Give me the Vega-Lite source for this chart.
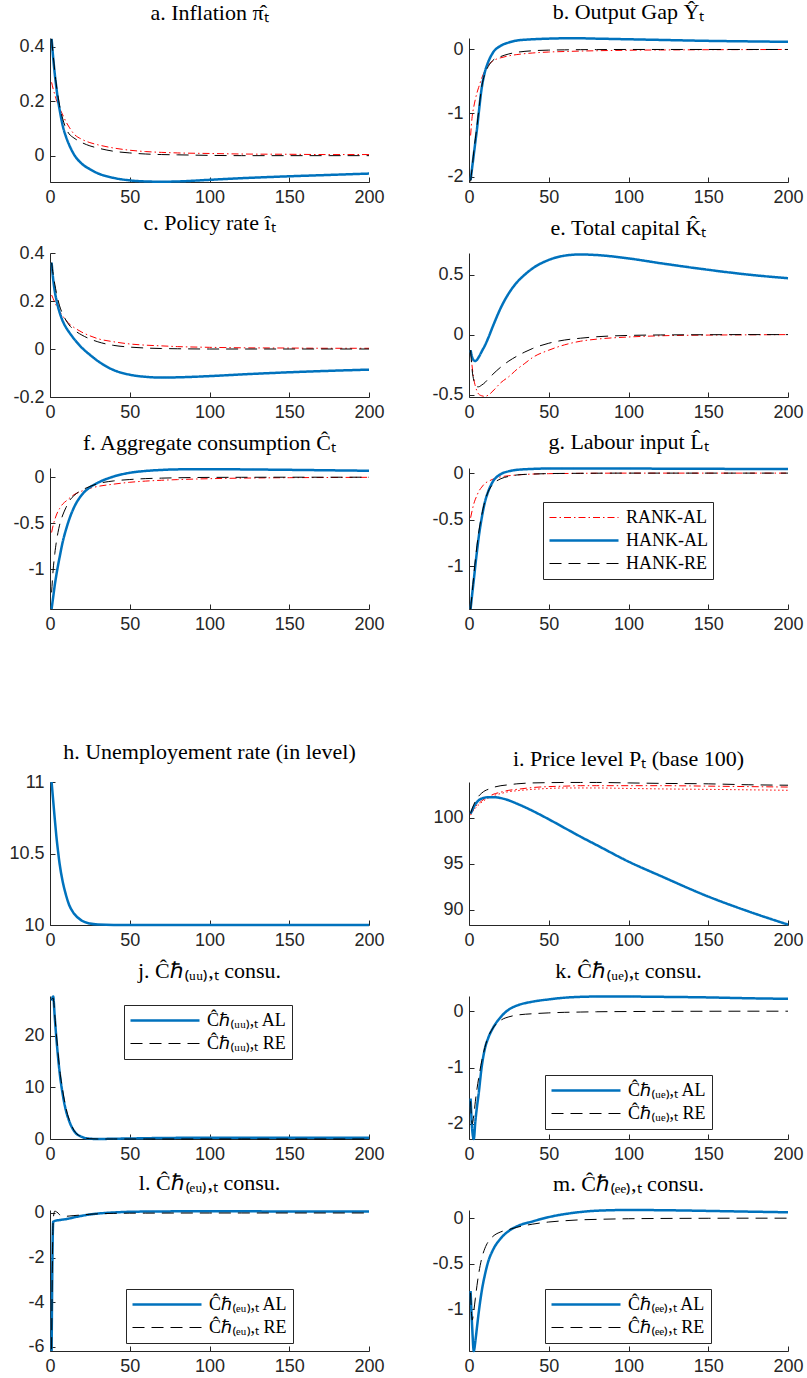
{
"$schema":"https://vega.github.io/schema/vega-lite/v6.json",
"background":"white",
"padding":{"left":8,"top":1,"right":5,"bottom":3},
"config":{
 "view":{"stroke":null},
 "axis":{"grid":false,"title":null,"domainColor":"#262626","tickColor":"#262626","labelColor":"#262626","labelFont":"Liberation Sans","labelFontSize":18,"tickSize":-5,"labelPadding":11,"labelFlush":false,"labelOverlap":false,"domainWidth":1},
 "title":{"font":"Liberation Serif","fontSize":22,"fontWeight":"normal","color":"#000000","baseline":"alphabetic","offset":9,"frame":"group","anchor":"middle"},
 "legend":{"orient":"none","symbolType":"stroke","symbolSize":4761,"clipHeight":21,"rowPadding":2,"padding":5,"labelFont":"Liberation Serif","labelFontSize":18,"labelColor":"#000000","strokeColor":"#262626","fillColor":"white","labelOffset":6}
},
"datasets":{
"a":[
{"t":1,"RANK-AL":0.27,"HANK-AL":0.43,"HANK-RE":0.43},
{"t":2,"RANK-AL":0.245,"HANK-AL":0.36,"HANK-RE":0.37},
{"t":3,"RANK-AL":0.225,"HANK-AL":0.30,"HANK-RE":0.31},
{"t":4,"RANK-AL":0.205,"HANK-AL":0.25,"HANK-RE":0.26},
{"t":5,"RANK-AL":0.19,"HANK-AL":0.205,"HANK-RE":0.22},
{"t":6,"RANK-AL":0.175,"HANK-AL":0.17,"HANK-RE":0.185},
{"t":8,"RANK-AL":0.15,"HANK-AL":0.11,"HANK-RE":0.135},
{"t":10,"RANK-AL":0.125,"HANK-AL":0.07,"HANK-RE":0.10},
{"t":12,"RANK-AL":0.105,"HANK-AL":0.04,"HANK-RE":0.08},
{"t":15,"RANK-AL":0.08,"HANK-AL":0.005,"HANK-RE":0.065},
{"t":20,"RANK-AL":0.06,"HANK-AL":-0.03,"HANK-RE":0.048},
{"t":25,"RANK-AL":0.048,"HANK-AL":-0.05,"HANK-RE":0.036},
{"t":30,"RANK-AL":0.04,"HANK-AL":-0.065,"HANK-RE":0.028},
{"t":40,"RANK-AL":0.028,"HANK-AL":-0.082,"HANK-RE":0.016},
{"t":50,"RANK-AL":0.02,"HANK-AL":-0.091,"HANK-RE":0.01},
{"t":60,"RANK-AL":0.015,"HANK-AL":-0.095,"HANK-RE":0.006},
{"t":70,"RANK-AL":0.012,"HANK-AL":-0.096,"HANK-RE":0.004},
{"t":80,"RANK-AL":0.01,"HANK-AL":-0.095,"HANK-RE":0.003},
{"t":100,"RANK-AL":0.008,"HANK-AL":-0.089,"HANK-RE":0.001},
{"t":120,"RANK-AL":0.006,"HANK-AL":-0.083,"HANK-RE":0.0},
{"t":150,"RANK-AL":0.005,"HANK-AL":-0.076,"HANK-RE":0.0},
{"t":175,"RANK-AL":0.004,"HANK-AL":-0.071,"HANK-RE":0.0},
{"t":200,"RANK-AL":0.004,"HANK-AL":-0.066,"HANK-RE":0.0}
],
"b":[
{"t":1,"RANK-AL":-1.35,"HANK-AL":-2.05,"HANK-RE":-2.07},
{"t":2,"RANK-AL":-1.05,"HANK-AL":-1.85,"HANK-RE":-1.85},
{"t":3,"RANK-AL":-0.9,"HANK-AL":-1.65,"HANK-RE":-1.6},
{"t":4,"RANK-AL":-0.78,"HANK-AL":-1.45,"HANK-RE":-1.4},
{"t":5,"RANK-AL":-0.68,"HANK-AL":-1.25,"HANK-RE":-1.2},
{"t":6,"RANK-AL":-0.6,"HANK-AL":-1.02,"HANK-RE":-0.98},
{"t":8,"RANK-AL":-0.45,"HANK-AL":-0.6,"HANK-RE":-0.58},
{"t":10,"RANK-AL":-0.33,"HANK-AL":-0.35,"HANK-RE":-0.38},
{"t":12,"RANK-AL":-0.25,"HANK-AL":-0.2,"HANK-RE":-0.27},
{"t":15,"RANK-AL":-0.18,"HANK-AL":-0.05,"HANK-RE":-0.17},
{"t":20,"RANK-AL":-0.13,"HANK-AL":0.06,"HANK-RE":-0.11},
{"t":25,"RANK-AL":-0.1,"HANK-AL":0.11,"HANK-RE":-0.07},
{"t":30,"RANK-AL":-0.08,"HANK-AL":0.14,"HANK-RE":-0.045},
{"t":40,"RANK-AL":-0.055,"HANK-AL":0.16,"HANK-RE":-0.02},
{"t":50,"RANK-AL":-0.04,"HANK-AL":0.17,"HANK-RE":-0.01},
{"t":60,"RANK-AL":-0.032,"HANK-AL":0.175,"HANK-RE":-0.006},
{"t":70,"RANK-AL":-0.025,"HANK-AL":0.175,"HANK-RE":-0.003},
{"t":80,"RANK-AL":-0.02,"HANK-AL":0.17,"HANK-RE":-0.002},
{"t":100,"RANK-AL":-0.012,"HANK-AL":0.16,"HANK-RE":0},
{"t":120,"RANK-AL":-0.008,"HANK-AL":0.15,"HANK-RE":0},
{"t":150,"RANK-AL":-0.004,"HANK-AL":0.135,"HANK-RE":0},
{"t":175,"RANK-AL":-0.002,"HANK-AL":0.127,"HANK-RE":0},
{"t":200,"RANK-AL":0,"HANK-AL":0.12,"HANK-RE":0}
],
"c":[
{"t":1,"RANK-AL":0.225,"HANK-AL":0.36,"HANK-RE":0.36},
{"t":2,"RANK-AL":0.21,"HANK-AL":0.29,"HANK-RE":0.31},
{"t":3,"RANK-AL":0.195,"HANK-AL":0.24,"HANK-RE":0.27},
{"t":4,"RANK-AL":0.18,"HANK-AL":0.205,"HANK-RE":0.235},
{"t":5,"RANK-AL":0.168,"HANK-AL":0.177,"HANK-RE":0.205},
{"t":6,"RANK-AL":0.156,"HANK-AL":0.153,"HANK-RE":0.18},
{"t":8,"RANK-AL":0.137,"HANK-AL":0.116,"HANK-RE":0.145},
{"t":10,"RANK-AL":0.12,"HANK-AL":0.09,"HANK-RE":0.12},
{"t":12,"RANK-AL":0.105,"HANK-AL":0.07,"HANK-RE":0.1},
{"t":15,"RANK-AL":0.09,"HANK-AL":0.043,"HANK-RE":0.08},
{"t":20,"RANK-AL":0.07,"HANK-AL":0.005,"HANK-RE":0.058},
{"t":25,"RANK-AL":0.055,"HANK-AL":-0.024,"HANK-RE":0.042},
{"t":30,"RANK-AL":0.043,"HANK-AL":-0.05,"HANK-RE":0.03},
{"t":40,"RANK-AL":0.03,"HANK-AL":-0.088,"HANK-RE":0.015},
{"t":50,"RANK-AL":0.021,"HANK-AL":-0.107,"HANK-RE":0.008},
{"t":60,"RANK-AL":0.016,"HANK-AL":-0.116,"HANK-RE":0.004},
{"t":70,"RANK-AL":0.013,"HANK-AL":-0.119,"HANK-RE":0.002},
{"t":80,"RANK-AL":0.01,"HANK-AL":-0.118,"HANK-RE":0.001},
{"t":100,"RANK-AL":0.007,"HANK-AL":-0.113,"HANK-RE":0},
{"t":120,"RANK-AL":0.005,"HANK-AL":-0.106,"HANK-RE":0},
{"t":150,"RANK-AL":0.004,"HANK-AL":-0.097,"HANK-RE":0},
{"t":175,"RANK-AL":0.003,"HANK-AL":-0.091,"HANK-RE":0},
{"t":200,"RANK-AL":0.003,"HANK-AL":-0.086,"HANK-RE":0}
],
"e":[
{"t":1,"RANK-AL":-0.13,"HANK-AL":-0.13,"HANK-RE":-0.13},
{"t":2,"RANK-AL":-0.27,"HANK-AL":-0.19,"HANK-RE":-0.3},
{"t":3,"RANK-AL":-0.37,"HANK-AL":-0.215,"HANK-RE":-0.38},
{"t":4,"RANK-AL":-0.43,"HANK-AL":-0.22,"HANK-RE":-0.42},
{"t":5,"RANK-AL":-0.47,"HANK-AL":-0.21,"HANK-RE":-0.435},
{"t":6,"RANK-AL":-0.495,"HANK-AL":-0.19,"HANK-RE":-0.435},
{"t":8,"RANK-AL":-0.51,"HANK-AL":-0.14,"HANK-RE":-0.42},
{"t":10,"RANK-AL":-0.515,"HANK-AL":-0.09,"HANK-RE":-0.4},
{"t":12,"RANK-AL":-0.505,"HANK-AL":-0.03,"HANK-RE":-0.37},
{"t":15,"RANK-AL":-0.47,"HANK-AL":0.07,"HANK-RE":-0.33},
{"t":20,"RANK-AL":-0.4,"HANK-AL":0.225,"HANK-RE":-0.27},
{"t":25,"RANK-AL":-0.35,"HANK-AL":0.345,"HANK-RE":-0.22},
{"t":30,"RANK-AL":-0.29,"HANK-AL":0.435,"HANK-RE":-0.18},
{"t":35,"RANK-AL":-0.24,"HANK-AL":0.5,"HANK-RE":-0.145},
{"t":40,"RANK-AL":-0.19,"HANK-AL":0.553,"HANK-RE":-0.115},
{"t":50,"RANK-AL":-0.13,"HANK-AL":0.622,"HANK-RE":-0.072},
{"t":60,"RANK-AL":-0.085,"HANK-AL":0.658,"HANK-RE":-0.045},
{"t":70,"RANK-AL":-0.055,"HANK-AL":0.668,"HANK-RE":-0.03},
{"t":80,"RANK-AL":-0.038,"HANK-AL":0.663,"HANK-RE":-0.018},
{"t":100,"RANK-AL":-0.02,"HANK-AL":0.635,"HANK-RE":-0.007},
{"t":120,"RANK-AL":-0.01,"HANK-AL":0.595,"HANK-RE":-0.003},
{"t":150,"RANK-AL":-0.004,"HANK-AL":0.54,"HANK-RE":-0.001},
{"t":175,"RANK-AL":-0.002,"HANK-AL":0.5,"HANK-RE":0},
{"t":200,"RANK-AL":0,"HANK-AL":0.47,"HANK-RE":0}
],
"f":[
{"t":1,"RANK-AL":-0.6,"HANK-AL":-1.43,"HANK-RE":-1.25},
{"t":2,"RANK-AL":-0.52,"HANK-AL":-1.3,"HANK-RE":-1.0},
{"t":3,"RANK-AL":-0.46,"HANK-AL":-1.17,"HANK-RE":-0.83},
{"t":4,"RANK-AL":-0.41,"HANK-AL":-1.06,"HANK-RE":-0.7},
{"t":5,"RANK-AL":-0.37,"HANK-AL":-0.96,"HANK-RE":-0.6},
{"t":6,"RANK-AL":-0.34,"HANK-AL":-0.87,"HANK-RE":-0.52},
{"t":8,"RANK-AL":-0.29,"HANK-AL":-0.7,"HANK-RE":-0.41},
{"t":10,"RANK-AL":-0.26,"HANK-AL":-0.57,"HANK-RE":-0.33},
{"t":12,"RANK-AL":-0.23,"HANK-AL":-0.46,"HANK-RE":-0.26},
{"t":15,"RANK-AL":-0.19,"HANK-AL":-0.33,"HANK-RE":-0.2},
{"t":20,"RANK-AL":-0.15,"HANK-AL":-0.19,"HANK-RE":-0.14},
{"t":25,"RANK-AL":-0.12,"HANK-AL":-0.11,"HANK-RE":-0.1},
{"t":30,"RANK-AL":-0.1,"HANK-AL":-0.06,"HANK-RE":-0.07},
{"t":40,"RANK-AL":-0.075,"HANK-AL":0.008,"HANK-RE":-0.04},
{"t":50,"RANK-AL":-0.055,"HANK-AL":0.048,"HANK-RE":-0.025},
{"t":60,"RANK-AL":-0.042,"HANK-AL":0.068,"HANK-RE":-0.015},
{"t":70,"RANK-AL":-0.033,"HANK-AL":0.079,"HANK-RE":-0.01},
{"t":80,"RANK-AL":-0.026,"HANK-AL":0.085,"HANK-RE":-0.006},
{"t":100,"RANK-AL":-0.016,"HANK-AL":0.087,"HANK-RE":-0.002},
{"t":120,"RANK-AL":-0.01,"HANK-AL":0.085,"HANK-RE":-0.001},
{"t":150,"RANK-AL":-0.005,"HANK-AL":0.08,"HANK-RE":0},
{"t":175,"RANK-AL":-0.003,"HANK-AL":0.075,"HANK-RE":0},
{"t":200,"RANK-AL":-0.001,"HANK-AL":0.07,"HANK-RE":0}
],
"g":[
{"t":1,"RANK-AL":-0.48,"HANK-AL":-1.46,"HANK-RE":-1.46},
{"t":2,"RANK-AL":-0.4,"HANK-AL":-1.3,"HANK-RE":-1.28},
{"t":3,"RANK-AL":-0.33,"HANK-AL":-1.15,"HANK-RE":-1.1},
{"t":4,"RANK-AL":-0.28,"HANK-AL":-0.99,"HANK-RE":-0.93},
{"t":5,"RANK-AL":-0.24,"HANK-AL":-0.84,"HANK-RE":-0.78},
{"t":6,"RANK-AL":-0.2,"HANK-AL":-0.7,"HANK-RE":-0.65},
{"t":8,"RANK-AL":-0.15,"HANK-AL":-0.48,"HANK-RE":-0.45},
{"t":10,"RANK-AL":-0.11,"HANK-AL":-0.31,"HANK-RE":-0.3},
{"t":12,"RANK-AL":-0.09,"HANK-AL":-0.2,"HANK-RE":-0.2},
{"t":15,"RANK-AL":-0.065,"HANK-AL":-0.09,"HANK-RE":-0.12},
{"t":20,"RANK-AL":-0.04,"HANK-AL":-0.01,"HANK-RE":-0.06},
{"t":25,"RANK-AL":-0.028,"HANK-AL":0.02,"HANK-RE":-0.035},
{"t":30,"RANK-AL":-0.02,"HANK-AL":0.035,"HANK-RE":-0.02},
{"t":40,"RANK-AL":-0.01,"HANK-AL":0.045,"HANK-RE":-0.01},
{"t":50,"RANK-AL":-0.006,"HANK-AL":0.05,"HANK-RE":-0.005},
{"t":60,"RANK-AL":-0.004,"HANK-AL":0.05,"HANK-RE":-0.003},
{"t":70,"RANK-AL":-0.002,"HANK-AL":0.05,"HANK-RE":-0.002},
{"t":80,"RANK-AL":-0.001,"HANK-AL":0.05,"HANK-RE":-0.001},
{"t":100,"RANK-AL":0,"HANK-AL":0.049,"HANK-RE":0},
{"t":120,"RANK-AL":0,"HANK-AL":0.048,"HANK-RE":0},
{"t":150,"RANK-AL":0,"HANK-AL":0.046,"HANK-RE":0},
{"t":175,"RANK-AL":0,"HANK-AL":0.045,"HANK-RE":0},
{"t":200,"RANK-AL":0,"HANK-AL":0.043,"HANK-RE":0}
],
"h":[
{"t":1,"HANK-AL":11.0},{"t":2,"HANK-AL":10.87},{"t":3,"HANK-AL":10.74},{"t":4,"HANK-AL":10.62},{"t":5,"HANK-AL":10.52},{"t":6,"HANK-AL":10.43},{"t":8,"HANK-AL":10.3},{"t":10,"HANK-AL":10.21},{"t":12,"HANK-AL":10.14},{"t":15,"HANK-AL":10.08},{"t":20,"HANK-AL":10.03},{"t":25,"HANK-AL":10.01},{"t":30,"HANK-AL":10.003},{"t":40,"HANK-AL":10.0},{"t":50,"HANK-AL":10.0},{"t":60,"HANK-AL":10.0},{"t":70,"HANK-AL":10.0},{"t":80,"HANK-AL":10.0},{"t":100,"HANK-AL":10.0},{"t":120,"HANK-AL":10.0},{"t":150,"HANK-AL":10.0},{"t":175,"HANK-AL":10.0},{"t":200,"HANK-AL":10.0}
],
"i":[
{"t":1,"RANK-AL":100.4,"RANK-AL2":100.3,"HANK-AL":100.44,"HANK-RE":100.5},
{"t":2,"RANK-AL":100.7,"RANK-AL2":100.6,"HANK-AL":100.85,"HANK-RE":101.0},
{"t":3,"RANK-AL":100.95,"RANK-AL2":100.85,"HANK-AL":101.2,"HANK-RE":101.45},
{"t":4,"RANK-AL":101.2,"RANK-AL2":101.05,"HANK-AL":101.5,"HANK-RE":101.8},
{"t":5,"RANK-AL":101.4,"RANK-AL2":101.25,"HANK-AL":101.72,"HANK-RE":102.1},
{"t":6,"RANK-AL":101.55,"RANK-AL2":101.4,"HANK-AL":101.9,"HANK-RE":102.35},
{"t":8,"RANK-AL":101.85,"RANK-AL2":101.7,"HANK-AL":102.1,"HANK-RE":102.7},
{"t":10,"RANK-AL":102.1,"RANK-AL2":101.95,"HANK-AL":102.2,"HANK-RE":102.95},
{"t":12,"RANK-AL":102.3,"RANK-AL2":102.15,"HANK-AL":102.25,"HANK-RE":103.1},
{"t":15,"RANK-AL":102.55,"RANK-AL2":102.4,"HANK-AL":102.25,"HANK-RE":103.3},
{"t":20,"RANK-AL":102.8,"RANK-AL2":102.65,"HANK-AL":102.15,"HANK-RE":103.5},
{"t":25,"RANK-AL":103.0,"RANK-AL2":102.85,"HANK-AL":101.9,"HANK-RE":103.6},
{"t":30,"RANK-AL":103.1,"RANK-AL2":102.95,"HANK-AL":101.55,"HANK-RE":103.7},
{"t":40,"RANK-AL":103.3,"RANK-AL2":103.1,"HANK-AL":100.75,"HANK-RE":103.8},
{"t":50,"RANK-AL":103.4,"RANK-AL2":103.2,"HANK-AL":99.85,"HANK-RE":103.83},
{"t":60,"RANK-AL":103.45,"RANK-AL2":103.25,"HANK-AL":98.9,"HANK-RE":103.85},
{"t":70,"RANK-AL":103.5,"RANK-AL2":103.25,"HANK-AL":97.95,"HANK-RE":103.85},
{"t":80,"RANK-AL":103.5,"RANK-AL2":103.25,"HANK-AL":97.05,"HANK-RE":103.85},
{"t":100,"RANK-AL":103.5,"RANK-AL2":103.2,"HANK-AL":95.25,"HANK-RE":103.8},
{"t":120,"RANK-AL":103.5,"RANK-AL2":103.15,"HANK-AL":93.7,"HANK-RE":103.75},
{"t":150,"RANK-AL":103.45,"RANK-AL2":103.1,"HANK-AL":91.45,"HANK-RE":103.7},
{"t":175,"RANK-AL":103.4,"RANK-AL2":103.05,"HANK-AL":89.85,"HANK-RE":103.6},
{"t":200,"RANK-AL":103.35,"RANK-AL2":103.0,"HANK-AL":88.4,"HANK-RE":103.55}
],
"j":[
{"t":1,"AL":26.8,"RE":27.0},{"t":2,"AL":27.6,"RE":27.3},{"t":3,"AL":23.5,"RE":24.0},{"t":4,"AL":19.5,"RE":20.3},{"t":5,"AL":16.0,"RE":16.8},{"t":6,"AL":13.0,"RE":13.7},{"t":8,"AL":8.6,"RE":9.3},{"t":10,"AL":5.5,"RE":6.0},{"t":12,"AL":3.5,"RE":3.8},{"t":15,"AL":1.6,"RE":1.7},{"t":20,"AL":0.4,"RE":0.4},{"t":25,"AL":0.05,"RE":0.05},{"t":30,"AL":0.0,"RE":0.0},{"t":40,"AL":0.05,"RE":0},{"t":50,"AL":0.1,"RE":0},{"t":60,"AL":0.15,"RE":0},{"t":70,"AL":0.2,"RE":0},{"t":80,"AL":0.22,"RE":0},{"t":100,"AL":0.25,"RE":0},{"t":120,"AL":0.25,"RE":0},{"t":150,"AL":0.25,"RE":0},{"t":175,"AL":0.23,"RE":0},{"t":200,"AL":0.22,"RE":0}
],
"k":[
{"t":1,"AL":-1.55,"RE":-1.6},{"t":2,"AL":-2.1,"RE":-2.0},{"t":3,"AL":-2.27,"RE":-1.85},{"t":4,"AL":-1.95,"RE":-1.6},{"t":5,"AL":-1.7,"RE":-1.38},{"t":6,"AL":-1.48,"RE":-1.2},{"t":8,"AL":-0.98,"RE":-0.88},{"t":10,"AL":-0.66,"RE":-0.64},{"t":12,"AL":-0.48,"RE":-0.46},{"t":15,"AL":-0.3,"RE":-0.3},{"t":20,"AL":-0.1,"RE":-0.16},{"t":25,"AL":0.03,"RE":-0.1},{"t":30,"AL":0.1,"RE":-0.07},{"t":40,"AL":0.17,"RE":-0.045},{"t":50,"AL":0.21,"RE":-0.03},{"t":60,"AL":0.24,"RE":-0.02},{"t":70,"AL":0.255,"RE":-0.015},{"t":80,"AL":0.26,"RE":-0.01},{"t":100,"AL":0.26,"RE":-0.006},{"t":120,"AL":0.255,"RE":-0.003},{"t":150,"AL":0.245,"RE":-0.001},{"t":175,"AL":0.23,"RE":0},{"t":200,"AL":0.22,"RE":0}
],
"l":[
{"t":1,"AL":-6.18,"RE":-6.1},{"t":2,"AL":-0.4,"RE":-0.3},{"t":3,"AL":-0.36,"RE":0.08},{"t":4,"AL":-0.34,"RE":0.05},{"t":5,"AL":-0.33,"RE":0.0},{"t":6,"AL":-0.32,"RE":-0.08},{"t":8,"AL":-0.3,"RE":-0.13},{"t":10,"AL":-0.28,"RE":-0.15},{"t":12,"AL":-0.25,"RE":-0.14},{"t":15,"AL":-0.2,"RE":-0.12},{"t":20,"AL":-0.13,"RE":-0.09},{"t":25,"AL":-0.07,"RE":-0.06},{"t":30,"AL":-0.03,"RE":-0.04},{"t":40,"AL":0.02,"RE":-0.02},{"t":50,"AL":0.05,"RE":-0.012},{"t":60,"AL":0.06,"RE":-0.01},{"t":70,"AL":0.065,"RE":-0.008},{"t":80,"AL":0.07,"RE":-0.006},{"t":100,"AL":0.07,"RE":-0.005},{"t":120,"AL":0.07,"RE":-0.004},{"t":150,"AL":0.065,"RE":-0.003},{"t":175,"AL":0.062,"RE":-0.003},{"t":200,"AL":0.06,"RE":-0.003}
],
"m":[
{"t":1,"AL":-0.8,"RE":-0.82},{"t":2,"AL":-1.2,"RE":-1.12},{"t":3,"AL":-1.46,"RE":-1.02},{"t":4,"AL":-1.35,"RE":-0.88},{"t":5,"AL":-1.2,"RE":-0.74},{"t":6,"AL":-1.05,"RE":-0.62},{"t":8,"AL":-0.8,"RE":-0.44},{"t":10,"AL":-0.62,"RE":-0.33},{"t":12,"AL":-0.48,"RE":-0.26},{"t":15,"AL":-0.35,"RE":-0.2},{"t":20,"AL":-0.22,"RE":-0.15},{"t":25,"AL":-0.14,"RE":-0.125},{"t":30,"AL":-0.09,"RE":-0.1},{"t":40,"AL":-0.035,"RE":-0.065},{"t":50,"AL":0.012,"RE":-0.042},{"t":60,"AL":0.045,"RE":-0.028},{"t":70,"AL":0.068,"RE":-0.018},{"t":80,"AL":0.082,"RE":-0.013},{"t":100,"AL":0.09,"RE":-0.006},{"t":120,"AL":0.088,"RE":-0.003},{"t":150,"AL":0.08,"RE":-0.001},{"t":175,"AL":0.072,"RE":0},{"t":200,"AL":0.065,"RE":0}
]
},
"columns":2,
"spacing":{"row":71,"column":100},
"bounds":"flush",
"align":"each",
"resolve":{"scale":{"color":"independent","strokeDash":"independent","strokeWidth":"independent"},"legend":{"color":"independent","strokeDash":"independent","strokeWidth":"independent"}},
"concat":[
  {"width":319,"height":144,"title":"a. Inflation π̂ₜ","data":{"name":"a"},
   "transform":[{"fold":["RANK-AL","HANK-AL","HANK-RE"],"as":["series","value"]}],
   "mark":{"type":"line","interpolate":"monotone"},
   "encoding":{
    "x":{"field":"t","type":"quantitative","scale":{"domain":[0,200],"nice":false},"axis":{"values":[0,50,100,150,200]}},
    "y":{"field":"value","type":"quantitative","scale":{"domain":[-0.097,0.433],"nice":false,"zero":false},"axis":{"values":[0,0.2,0.4],"labelExpr":"''+datum.value"}},
    "color":{"field":"series","type":"nominal","scale":{"domain":["RANK-AL","HANK-AL","HANK-RE"],"range":["#ff0000","#0072bd","#000000"]},"legend":null},
    "strokeDash":{"field":"series","type":"nominal","scale":{"domain":["RANK-AL","HANK-AL","HANK-RE"],"range":[[7,3,1.5,3],[1,0],[12,7]]},"legend":null},
    "strokeWidth":{"field":"series","type":"nominal","scale":{"type":"ordinal","domain":["RANK-AL","HANK-AL","HANK-RE"],"range":[1,2.5,1]},"legend":null}}},
  {"width":319,"height":144,"title":"b. Output Gap Ŷₜ","data":{"name":"b"},
   "transform":[{"fold":["RANK-AL","HANK-AL","HANK-RE"],"as":["series","value"]}],
   "mark":{"type":"line","interpolate":"monotone"},
   "encoding":{
    "x":{"field":"t","type":"quantitative","scale":{"domain":[0,200],"nice":false},"axis":{"values":[0,50,100,150,200]}},
    "y":{"field":"value","type":"quantitative","scale":{"domain":[-2.08,0.18],"nice":false,"zero":false},"axis":{"values":[-2,-1,0],"labelExpr":"''+datum.value"}},
    "color":{"field":"series","type":"nominal","scale":{"domain":["RANK-AL","HANK-AL","HANK-RE"],"range":["#ff0000","#0072bd","#000000"]},"legend":null},
    "strokeDash":{"field":"series","type":"nominal","scale":{"domain":["RANK-AL","HANK-AL","HANK-RE"],"range":[[7,3,1.5,3],[1,0],[12,7]]},"legend":null},
    "strokeWidth":{"field":"series","type":"nominal","scale":{"type":"ordinal","domain":["RANK-AL","HANK-AL","HANK-RE"],"range":[1,2.5,1]},"legend":null}}},
  {"width":319,"height":144,"title":"c. Policy rate îₜ","data":{"name":"c"},
   "transform":[{"fold":["RANK-AL","HANK-AL","HANK-RE"],"as":["series","value"]}],
   "mark":{"type":"line","interpolate":"monotone"},
   "encoding":{
    "x":{"field":"t","type":"quantitative","scale":{"domain":[0,200],"nice":false},"axis":{"values":[0,50,100,150,200]}},
    "y":{"field":"value","type":"quantitative","scale":{"domain":[-0.2,0.4],"nice":false,"zero":false},"axis":{"values":[-0.2,0,0.2,0.4],"labelExpr":"''+datum.value"}},
    "color":{"field":"series","type":"nominal","scale":{"domain":["RANK-AL","HANK-AL","HANK-RE"],"range":["#ff0000","#0072bd","#000000"]},"legend":null},
    "strokeDash":{"field":"series","type":"nominal","scale":{"domain":["RANK-AL","HANK-AL","HANK-RE"],"range":[[7,3,1.5,3],[1,0],[12,7]]},"legend":null},
    "strokeWidth":{"field":"series","type":"nominal","scale":{"type":"ordinal","domain":["RANK-AL","HANK-AL","HANK-RE"],"range":[1,2.5,1]},"legend":null}}},
  {"width":319,"height":144,"title":"e. Total capital K̂ₜ","data":{"name":"e"},
   "transform":[{"fold":["RANK-AL","HANK-AL","HANK-RE"],"as":["series","value"]}],
   "mark":{"type":"line","interpolate":"monotone"},
   "encoding":{
    "x":{"field":"t","type":"quantitative","scale":{"domain":[0,200],"nice":false},"axis":{"values":[0,50,100,150,200]}},
    "y":{"field":"value","type":"quantitative","scale":{"domain":[-0.52,0.68],"nice":false,"zero":false},"axis":{"values":[-0.5,0,0.5],"labelExpr":"''+datum.value"}},
    "color":{"field":"series","type":"nominal","scale":{"domain":["RANK-AL","HANK-AL","HANK-RE"],"range":["#ff0000","#0072bd","#000000"]},"legend":null},
    "strokeDash":{"field":"series","type":"nominal","scale":{"domain":["RANK-AL","HANK-AL","HANK-RE"],"range":[[7,3,1.5,3],[1,0],[12,7]]},"legend":null},
    "strokeWidth":{"field":"series","type":"nominal","scale":{"type":"ordinal","domain":["RANK-AL","HANK-AL","HANK-RE"],"range":[1,2.5,1]},"legend":null}}},
  {"width":319,"height":141,"title":"f. Aggregate consumption Ĉₜ","data":{"name":"f"},
   "transform":[{"fold":["RANK-AL","HANK-AL","HANK-RE"],"as":["series","value"]}],
   "mark":{"type":"line","interpolate":"monotone"},
   "encoding":{
    "x":{"field":"t","type":"quantitative","scale":{"domain":[0,200],"nice":false},"axis":{"values":[0,50,100,150,200]}},
    "y":{"field":"value","type":"quantitative","scale":{"domain":[-1.43,0.1],"nice":false,"zero":false},"axis":{"values":[-1,-0.5,0],"labelExpr":"''+datum.value"}},
    "color":{"field":"series","type":"nominal","scale":{"domain":["RANK-AL","HANK-AL","HANK-RE"],"range":["#ff0000","#0072bd","#000000"]},"legend":null},
    "strokeDash":{"field":"series","type":"nominal","scale":{"domain":["RANK-AL","HANK-AL","HANK-RE"],"range":[[7,3,1.5,3],[1,0],[12,7]]},"legend":null},
    "strokeWidth":{"field":"series","type":"nominal","scale":{"type":"ordinal","domain":["RANK-AL","HANK-AL","HANK-RE"],"range":[1,2.5,1]},"legend":null}}},
  {"width":319,"height":141,"title":"g. Labour input L̂ₜ","data":{"name":"g"},
   "transform":[{"fold":["RANK-AL","HANK-AL","HANK-RE"],"as":["series","value"]}],
   "mark":{"type":"line","interpolate":"monotone"},
   "encoding":{
    "x":{"field":"t","type":"quantitative","scale":{"domain":[0,200],"nice":false},"axis":{"values":[0,50,100,150,200]}},
    "y":{"field":"value","type":"quantitative","scale":{"domain":[-1.46,0.055],"nice":false,"zero":false},"axis":{"values":[-1,-0.5,0],"labelExpr":"''+datum.value"}},
    "color":{"field":"series","type":"nominal","scale":{"domain":["RANK-AL","HANK-AL","HANK-RE"],"range":["#ff0000","#0072bd","#000000"]},"legend":{"title":null,"orient":"none","legendX":74,"legendY":34}},
    "strokeDash":{"field":"series","type":"nominal","scale":{"domain":["RANK-AL","HANK-AL","HANK-RE"],"range":[[7,3,1.5,3],[1,0],[12,7]]},"legend":{"title":null,"orient":"none","legendX":74,"legendY":34}},
    "strokeWidth":{"field":"series","type":"nominal","scale":{"type":"ordinal","domain":["RANK-AL","HANK-AL","HANK-RE"],"range":[1,2.5,1]},"legend":{"title":null,"orient":"none","legendX":74,"legendY":34}}}},
  {"width":319,"height":31,"data":{"values":[]},"mark":"point"},
  {"width":319,"height":31,"data":{"values":[]},"mark":"point"},
  {"width":319,"height":143,"title":"h. Unemployement rate (in level)","data":{"name":"h"},
   "transform":[{"fold":["HANK-AL"],"as":["series","value"]}],
   "mark":{"type":"line","interpolate":"monotone"},
   "encoding":{
    "x":{"field":"t","type":"quantitative","scale":{"domain":[0,200],"nice":false},"axis":{"values":[0,50,100,150,200]}},
    "y":{"field":"value","type":"quantitative","scale":{"domain":[10,11],"nice":false,"zero":false},"axis":{"values":[10,10.5,11],"labelExpr":"''+datum.value"}},
    "color":{"field":"series","type":"nominal","scale":{"domain":["HANK-AL"],"range":["#0072bd"]},"legend":null},
    "strokeWidth":{"field":"series","type":"nominal","scale":{"type":"ordinal","domain":["HANK-AL"],"range":[2.5]},"legend":null}}},
  {"width":319,"height":143,"title":"i. Price level Pₜ (base 100)","data":{"name":"i"},
   "transform":[{"fold":["RANK-AL","RANK-AL2","HANK-AL","HANK-RE"],"as":["series","value"]}],
   "mark":{"type":"line","interpolate":"monotone"},
   "encoding":{
    "x":{"field":"t","type":"quantitative","scale":{"domain":[0,200],"nice":false},"axis":{"values":[0,50,100,150,200]}},
    "y":{"field":"value","type":"quantitative","scale":{"domain":[88.36,103.9],"nice":false,"zero":false},"axis":{"values":[90,95,100],"labelExpr":"''+datum.value"}},
    "color":{"field":"series","type":"nominal","scale":{"domain":["RANK-AL","RANK-AL2","HANK-AL","HANK-RE"],"range":["#ff0000","#ff0000","#0072bd","#000000"]},"legend":null},
    "strokeDash":{"field":"series","type":"nominal","scale":{"domain":["RANK-AL","RANK-AL2","HANK-AL","HANK-RE"],"range":[[7,3,1.5,3],[1.5,2.5],[1,0],[12,7]]},"legend":null},
    "strokeWidth":{"field":"series","type":"nominal","scale":{"type":"ordinal","domain":["RANK-AL","RANK-AL2","HANK-AL","HANK-RE"],"range":[1,1,2.5,1]},"legend":null}}},
  {"width":319,"height":143,"title":"j. Ĉℏ₍ᵤᵤ₎,ₜ consu.","data":{"name":"j"},
   "transform":[{"fold":["AL","RE"],"as":["series","value"]}],
   "mark":{"type":"line","interpolate":"monotone"},
   "encoding":{
    "x":{"field":"t","type":"quantitative","scale":{"domain":[0,200],"nice":false},"axis":{"values":[0,50,100,150,200]}},
    "y":{"field":"value","type":"quantitative","scale":{"domain":[0,27.7],"nice":false,"zero":false},"axis":{"values":[0,10,20],"labelExpr":"''+datum.value"}},
    "color":{"field":"series","type":"nominal","scale":{"domain":["AL","RE"],"range":["#0072bd","#000000"]},"legend":{"title":null,"orient":"none","legendX":74,"legendY":9,"labelExpr":"datum.label == 'AL' ? 'Ĉℏ₍ᵤᵤ₎,ₜ AL' : 'Ĉℏ₍ᵤᵤ₎,ₜ RE'"}},
    "strokeDash":{"field":"series","type":"nominal","scale":{"domain":["AL","RE"],"range":[[1,0],[12,7]]},"legend":{"title":null,"orient":"none","legendX":74,"legendY":9,"labelExpr":"datum.label == 'AL' ? 'Ĉℏ₍ᵤᵤ₎,ₜ AL' : 'Ĉℏ₍ᵤᵤ₎,ₜ RE'"}},
    "strokeWidth":{"field":"series","type":"nominal","scale":{"type":"ordinal","domain":["AL","RE"],"range":[2.5,1]},"legend":{"title":null,"orient":"none","legendX":74,"legendY":9,"labelExpr":"datum.label == 'AL' ? 'Ĉℏ₍ᵤᵤ₎,ₜ AL' : 'Ĉℏ₍ᵤᵤ₎,ₜ RE'"}}}},
  {"width":319,"height":143,"title":"k. Ĉℏ₍ᵤₑ₎,ₜ consu.","data":{"name":"k"},
   "transform":[{"fold":["AL","RE"],"as":["series","value"]}],
   "mark":{"type":"line","interpolate":"monotone"},
   "encoding":{
    "x":{"field":"t","type":"quantitative","scale":{"domain":[0,200],"nice":false},"axis":{"values":[0,50,100,150,200]}},
    "y":{"field":"value","type":"quantitative","scale":{"domain":[-2.27,0.27],"nice":false,"zero":false},"axis":{"values":[-2,-1,0],"labelExpr":"''+datum.value"}},
    "color":{"field":"series","type":"nominal","scale":{"domain":["AL","RE"],"range":["#0072bd","#000000"]},"legend":{"title":null,"orient":"none","legendX":76,"legendY":79,"labelExpr":"datum.label == 'AL' ? 'Ĉℏ₍ᵤₑ₎,ₜ AL' : 'Ĉℏ₍ᵤₑ₎,ₜ RE'"}},
    "strokeDash":{"field":"series","type":"nominal","scale":{"domain":["AL","RE"],"range":[[1,0],[12,7]]},"legend":{"title":null,"orient":"none","legendX":76,"legendY":79,"labelExpr":"datum.label == 'AL' ? 'Ĉℏ₍ᵤₑ₎,ₜ AL' : 'Ĉℏ₍ᵤₑ₎,ₜ RE'"}},
    "strokeWidth":{"field":"series","type":"nominal","scale":{"type":"ordinal","domain":["AL","RE"],"range":[2.5,1]},"legend":{"title":null,"orient":"none","legendX":76,"legendY":79,"labelExpr":"datum.label == 'AL' ? 'Ĉℏ₍ᵤₑ₎,ₜ AL' : 'Ĉℏ₍ᵤₑ₎,ₜ RE'"}}}},
  {"width":319,"height":141,"title":"l. Ĉℏ₍ₑᵤ₎,ₜ consu.","data":{"name":"l"},
   "transform":[{"fold":["AL","RE"],"as":["series","value"]}],
   "mark":{"type":"line","interpolate":"monotone"},
   "encoding":{
    "x":{"field":"t","type":"quantitative","scale":{"domain":[0,200],"nice":false},"axis":{"values":[0,50,100,150,200]}},
    "y":{"field":"value","type":"quantitative","scale":{"domain":[-6.18,0.13],"nice":false,"zero":false},"axis":{"values":[-6,-4,-2,0],"labelExpr":"''+datum.value"}},
    "color":{"field":"series","type":"nominal","scale":{"domain":["AL","RE"],"range":["#0072bd","#000000"]},"legend":{"title":null,"orient":"none","legendX":76,"legendY":79,"labelExpr":"datum.label == 'AL' ? 'Ĉℏ₍ₑᵤ₎,ₜ AL' : 'Ĉℏ₍ₑᵤ₎,ₜ RE'"}},
    "strokeDash":{"field":"series","type":"nominal","scale":{"domain":["AL","RE"],"range":[[1,0],[12,7]]},"legend":{"title":null,"orient":"none","legendX":76,"legendY":79,"labelExpr":"datum.label == 'AL' ? 'Ĉℏ₍ₑᵤ₎,ₜ AL' : 'Ĉℏ₍ₑᵤ₎,ₜ RE'"}},
    "strokeWidth":{"field":"series","type":"nominal","scale":{"type":"ordinal","domain":["AL","RE"],"range":[2.5,1]},"legend":{"title":null,"orient":"none","legendX":76,"legendY":79,"labelExpr":"datum.label == 'AL' ? 'Ĉℏ₍ₑᵤ₎,ₜ AL' : 'Ĉℏ₍ₑᵤ₎,ₜ RE'"}}}},
  {"width":319,"height":141,"title":"m. Ĉℏ₍ₑₑ₎,ₜ consu.","data":{"name":"m"},
   "transform":[{"fold":["AL","RE"],"as":["series","value"]}],
   "mark":{"type":"line","interpolate":"monotone"},
   "encoding":{
    "x":{"field":"t","type":"quantitative","scale":{"domain":[0,200],"nice":false},"axis":{"values":[0,50,100,150,200]}},
    "y":{"field":"value","type":"quantitative","scale":{"domain":[-1.46,0.09],"nice":false,"zero":false},"axis":{"values":[-1,-0.5,0],"labelExpr":"''+datum.value"}},
    "color":{"field":"series","type":"nominal","scale":{"domain":["AL","RE"],"range":["#0072bd","#000000"]},"legend":{"title":null,"orient":"none","legendX":76,"legendY":79,"labelExpr":"datum.label == 'AL' ? 'Ĉℏ₍ₑₑ₎,ₜ AL' : 'Ĉℏ₍ₑₑ₎,ₜ RE'"}},
    "strokeDash":{"field":"series","type":"nominal","scale":{"domain":["AL","RE"],"range":[[1,0],[12,7]]},"legend":{"title":null,"orient":"none","legendX":76,"legendY":79,"labelExpr":"datum.label == 'AL' ? 'Ĉℏ₍ₑₑ₎,ₜ AL' : 'Ĉℏ₍ₑₑ₎,ₜ RE'"}},
    "strokeWidth":{"field":"series","type":"nominal","scale":{"type":"ordinal","domain":["AL","RE"],"range":[2.5,1]},"legend":{"title":null,"orient":"none","legendX":76,"legendY":79,"labelExpr":"datum.label == 'AL' ? 'Ĉℏ₍ₑₑ₎,ₜ AL' : 'Ĉℏ₍ₑₑ₎,ₜ RE'"}}}}
]
}
